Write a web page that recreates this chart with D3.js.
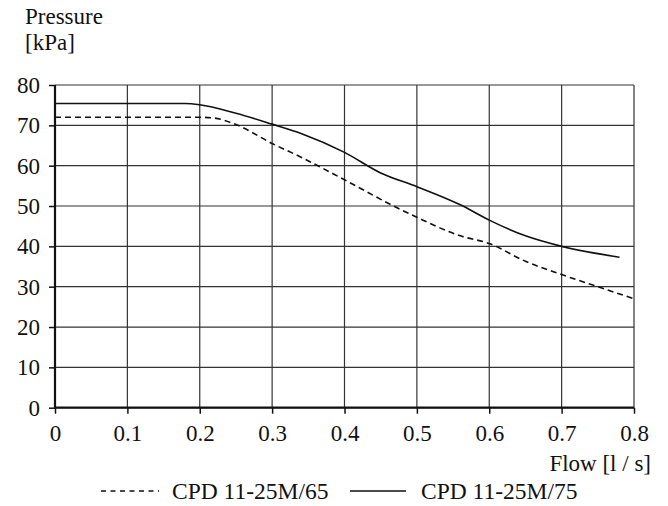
<!DOCTYPE html>
<html>
<head>
<meta charset="utf-8">
<style>
body { margin: 0; background: #fff; }
.grid line { stroke: #333; stroke-width: 1.2; }
.axis path { display: none; }
.axis line { stroke: #111; stroke-width: 1.5; }
.curve { fill: none; stroke: #111; stroke-width: 1.6; stroke-linejoin: round; }
</style>
</head>
<body>
<script src="https://cdn.jsdelivr.net/npm/d3@7"></script>
<script>
var xTicks = [0, 0.1, 0.2, 0.3, 0.4, 0.5, 0.6, 0.7, 0.8];
var yTicks = [0, 10, 20, 30, 40, 50, 60, 70, 80];

// CPD 11-25M/65 (dashed)
var flow65 = [0, 0.1, 0.2, 0.22, 0.25, 0.3, 0.34, 0.4, 0.47, 0.5, 0.56, 0.6, 0.65, 0.7, 0.75, 0.8];
var pres65 = [72, 72, 72, 71.8, 70.2, 65.5, 62.1, 56.5, 49.8, 47.2, 42.6, 40.7, 36.3, 33, 30, 27];

// CPD 11-25M/75 (solid)
var flow75 = [0, 0.1, 0.18, 0.2, 0.25, 0.3, 0.34, 0.4, 0.45, 0.5, 0.56, 0.6, 0.65, 0.7, 0.78];
var pres75 = [75.4, 75.4, 75.4, 75.1, 73, 70.3, 68, 63.3, 58.2, 54.8, 50.3, 46.5, 42.6, 40, 37.3];

var seriesNames = ["CPD 11-25M/65", "CPD 11-25M/75"];

var margin = {top: 85, left: 55},
	width = 579,
	height = 322.7;

var svg = d3.select("body").append("svg")
	.attr("width", 668)
	.attr("height", 506)
	.attr("font-family", "Liberation Serif")
	.attr("font-size", 23);

var g = svg.append("g")
	.attr("transform", "translate(" + margin.left + "," + margin.top + ")");

var x = d3.scaleLinear().domain([0, 0.8]).range([0, width]);
var y = d3.scaleLinear().domain([0, 80]).range([height, 0]);

// grid
var grid = g.append("g").attr("class", "grid");
grid.selectAll(".h").data(yTicks).enter().append("line")
	.attr("x1", 0).attr("x2", width)
	.attr("y1", function(d) { return y(d); })
	.attr("y2", function(d) { return y(d); });
grid.selectAll(".v").data(xTicks).enter().append("line")
	.attr("y1", 0).attr("y2", height)
	.attr("x1", function(d) { return x(d); })
	.attr("x2", function(d) { return x(d); });

function styleText(sel, size) {
	sel.attr("font-family", "Liberation Serif").attr("font-size", size || 23).attr("fill", "#111");
}

// axes
var yAxisG = g.append("g")
	.attr("class", "axis")
	.call(d3.axisLeft(y).tickValues(yTicks).tickSize(6).tickPadding(9));
yAxisG.attr("font-family", "Liberation Serif").attr("font-size", 23);
yAxisG.selectAll("text").call(styleText);

var xAxisG = g.append("g")
	.attr("class", "axis")
	.attr("transform", "translate(0," + height + ")")
	.call(d3.axisBottom(x).tickValues(xTicks).tickSize(6).tickPadding(11)
		.tickFormat(function(d) { return d === 0 ? "0" : d3.format(".1f")(d); }));
xAxisG.attr("font-family", "Liberation Serif").attr("font-size", 23);
xAxisG.selectAll("text").call(styleText);

// heavier axis lines
g.append("line").attr("x1", 0).attr("x2", 0).attr("y1", 0).attr("y2", height)
	.attr("stroke", "#111").attr("stroke-width", 2.2);
g.append("line").attr("x1", 0).attr("x2", width).attr("y1", height).attr("y2", height)
	.attr("stroke", "#111").attr("stroke-width", 2.2);

var line = d3.line()
	.x(function(d) { return x(d[0]); })
	.y(function(d) { return y(d[1]); })
	.curve(d3.curveMonotoneX);

g.append("path")
	.attr("class", "curve")
	.attr("stroke-dasharray", "6,4")
	.attr("d", line(d3.zip(flow65, pres65)));

g.append("path")
	.attr("class", "curve")
	.attr("d", line(d3.zip(flow75, pres75)));

// axis titles
svg.append("text").attr("x", 25).attr("y", 24).text("Pressure").call(styleText);
svg.append("text").attr("x", 25).attr("y", 50).text("[kPa]").call(styleText);
svg.append("text").attr("x", 651).attr("y", 471).attr("text-anchor", "end").text("Flow [l / s]").call(styleText);

// legend
var legend = svg.append("g").attr("transform", "translate(0,491)");
legend.append("line").attr("x1", 101).attr("x2", 159).attr("y1", 0).attr("y2", 0)
	.attr("stroke", "#111").attr("stroke-width", 1.3).attr("stroke-dasharray", "5,4.5");
legend.append("text").attr("x", 172).attr("y", 8).text(seriesNames[0]).call(styleText, 23.5);
legend.append("line").attr("x1", 350).attr("x2", 406).attr("y1", 0).attr("y2", 0)
	.attr("stroke", "#111").attr("stroke-width", 1.5);
legend.append("text").attr("x", 421).attr("y", 8).text(seriesNames[1]).call(styleText, 23.5);
</script>
</body>
</html>
